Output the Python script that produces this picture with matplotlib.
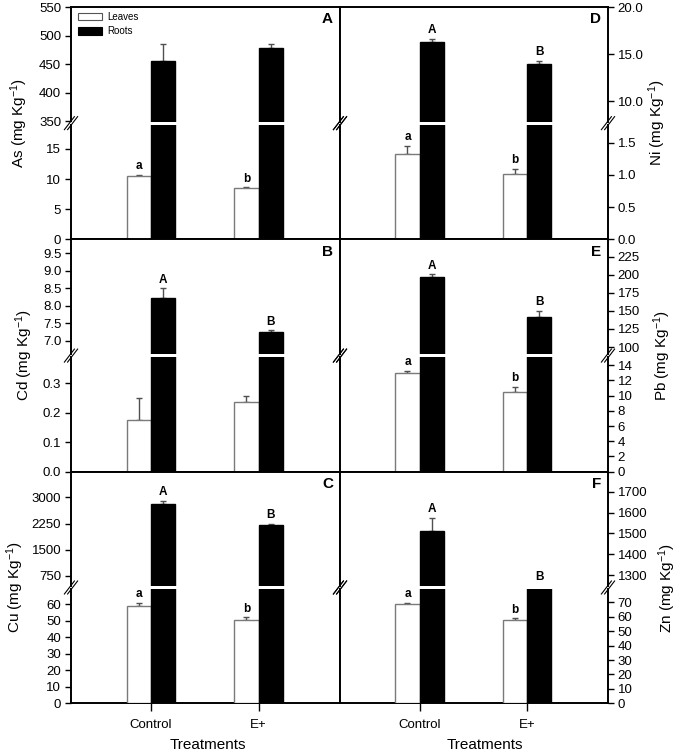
import matplotlib
matplotlib.use('Agg')
import matplotlib.pyplot as plt
from matplotlib.lines import Line2D
from matplotlib.patches import Patch
from matplotlib.ticker import FormatStrFormatter

plt.rcParams['font.family'] = ['Liberation Sans', 'DejaVu Sans']
plt.rcParams['mathtext.fontset'] = 'custom'
plt.rcParams['mathtext.rm'] = 'Liberation Sans'
plt.rcParams['mathtext.it'] = 'Liberation Sans:italic'
plt.rcParams['mathtext.bf'] = 'Liberation Sans:bold'

# ---------------- data ----------------
treatments = ['Control', 'E+']
series_names = ['Leaves', 'Roots']

as_leaves = [10.55, 8.45]
as_leaves_err = [0.15, 0.15]
as_roots = [455, 478]
as_roots_err = [31, 7]

cd_leaves = [0.175, 0.235]
cd_leaves_err = [0.074, 0.022]
cd_roots = [8.21, 7.25]
cd_roots_err = [0.29, 0.05]

cu_leaves = [58.9, 50.4]
cu_leaves_err = [2.0, 1.6]
cu_roots = [2800, 2220]
cu_roots_err = [100, 25]

ni_leaves = [1.32, 1.02]
ni_leaves_err = [0.13, 0.07]
ni_roots = [16.29, 13.96]
ni_roots_err = [0.28, 0.35]

pb_leaves = [12.95, 10.49]
pb_leaves_err = [0.3, 0.65]
pb_roots = [197.3, 142]
pb_roots_err = [3.3, 8]

zn_leaves = [69, 57.7]
zn_leaves_err = [0.8, 1.2]
zn_roots = [1513, 1200]
zn_roots_err = [63, 0]

as_letters = (['a', 'b'], ['', ''])
cd_letters = (['', ''], ['A', 'B'])
cu_letters = (['a', 'b'], ['A', 'B'])
ni_letters = (['a', 'b'], ['A', 'B'])
pb_letters = (['a', 'b'], ['A', 'B'])
zn_letters = (['a', 'b'], ['A', 'B'])

as_ticks = ([350, 400, 450, 500, 550], [0, 5, 10, 15])
cd_ticks = ([7.0, 7.5, 8.0, 8.5, 9.0, 9.5], [0.0, 0.1, 0.2, 0.3])
cu_ticks = ([750, 1500, 2250, 3000], [0, 10, 20, 30, 40, 50, 60])
ni_ticks = ([10.0, 15.0, 20.0], [0.0, 0.5, 1.0, 1.5])
pb_ticks = ([100, 125, 150, 175, 200, 225], [0, 2, 4, 6, 8, 10, 12, 14])
zn_ticks = ([1300, 1400, 1500, 1600, 1700], [0, 10, 20, 30, 40, 50, 60, 70])

# ---------------- layout ----------------
W, H = 680, 752
fig = plt.figure(figsize=(W / 100, H / 100), dpi=100)


def fx(px):
    return px / W


def fy(py):
    return 1 - py / H


cols = [(71, 340), (340, 608)]
rows = [(7, 239.3), (239.5, 471.7), (471.7, 703.3)]
gap = 3.3

panels = [
    dict(r=0, c=0, tag='A', el='As', lv=as_leaves, le=as_leaves_err, rv=as_roots, re=as_roots_err,
         let=as_letters, ticks=as_ticks, uy=(350, 550), ly=(0, 19.0), fmt=('%d', '%d'), lx=19),
    dict(r=1, c=0, tag='B', el='Cd', lv=cd_leaves, le=cd_leaves_err, rv=cd_roots, re=cd_roots_err,
         let=cd_letters, ticks=cd_ticks, uy=(6.63, 9.89), ly=(0, 0.388), fmt=('%.1f', '%.1f'), lx=24),
    dict(r=2, c=0, tag='C', el='Cu', lv=cu_leaves, le=cu_leaves_err, rv=cu_roots, re=cu_roots_err,
         let=cu_letters, ticks=cu_ticks, uy=(467, 3732), ly=(0, 69.1), fmt=('%d', '%d'), lx=15),
    dict(r=0, c=1, tag='D', el='Ni', lv=ni_leaves, le=ni_leaves_err, rv=ni_roots, re=ni_roots_err,
         let=ni_letters, ticks=ni_ticks, uy=(7.83, 20.0), ly=(0, 1.78), fmt=('%.1f', '%.1f'), lx=657),
    dict(r=1, c=1, tag='E', el='Pb', lv=pb_leaves, le=pb_leaves_err, rv=pb_roots, re=pb_roots_err,
         let=pb_letters, ticks=pb_ticks, uy=(90.4, 248.8), ly=(0, 15.05), fmt=('%d', '%d'), lx=662),
    dict(r=2, c=1, tag='F', el='Zn', lv=zn_leaves, le=zn_leaves_err, rv=zn_roots, re=zn_roots_err,
         let=zn_letters, ticks=zn_ticks, uy=(1249, 1796), ly=(0, 79.1), fmt=('%d', '%d'), lx=667),
]

xs = [0, 1]
bw = 0.226
xlim = (-0.742, 1.756)
spine_lw = 1.4
leaf_edge = '#7a7a7a'
err_col = '#505050'
tick_fs = 9.5


def add_break(xpx, ypx):
    for dx in (-1.6, 1.6):
        fig.add_artist(Line2D([fx(xpx + dx - 5), fx(xpx + dx + 5)],
                              [fy(ypx + 6.5), fy(ypx - 6.5)],
                              color='black', lw=0.8, transform=fig.transFigure))


for p in panels:
    x0, x1 = cols[p['c']]
    t, b = rows[p['r']]
    half = (b - t - gap) / 2
    ax_up = fig.add_axes([fx(x0), fy(t + half), fx(x1 - x0), half / H])
    ax_lo = fig.add_axes([fx(x0), fy(b), fx(x1 - x0), half / H])

    for ax, yl in ((ax_up, p['uy']), (ax_lo, p['ly'])):
        xl = [x - bw / 2 for x in xs]
        xr = [x + bw / 2 for x in xs]
        ax.bar(xl, p['lv'], width=bw, color='white', edgecolor=leaf_edge, linewidth=1.0, zorder=3)
        ax.bar(xr, p['rv'], width=bw, color='black', edgecolor='black', linewidth=1.0, zorder=3)
        ax.errorbar(xl, p['lv'], yerr=[[0, 0], p['le']], fmt='none', ecolor=err_col,
                    elinewidth=1.0, capsize=2.5, capthick=1.0, zorder=2)
        ax.errorbar(xr, p['rv'], yerr=[[0, 0], p['re']], fmt='none', ecolor=err_col,
                    elinewidth=1.0, capsize=2.5, capthick=1.0, zorder=2)
        ax.set_xlim(*xlim)
        ax.set_ylim(*yl)
        for s in ax.spines.values():
            s.set_linewidth(spine_lw)

    # ticks
    ax_up.set_yticks(p['ticks'][0])
    ax_lo.set_yticks(p['ticks'][1])
    ax_up.yaxis.set_major_formatter(FormatStrFormatter(p['fmt'][0]))
    ax_lo.yaxis.set_major_formatter(FormatStrFormatter(p['fmt'][1]))
    ax_up.spines['bottom'].set_visible(False)
    ax_lo.spines['top'].set_visible(False)
    ax_up.tick_params(axis='x', bottom=False, labelbottom=False)
    ax_lo.set_xticks(xs)
    ax_lo.tick_params(axis='x', direction='out', length=6, width=1.0)
    if p['r'] == 2:
        ax_lo.set_xticklabels(treatments, fontsize=tick_fs)
        ax_lo.tick_params(axis='x', pad=5)
    else:
        ax_lo.tick_params(axis='x', labelbottom=False)
    for ax in (ax_up, ax_lo):
        ax.tick_params(axis='y', direction='out', length=4, width=1.0, labelsize=tick_fs, pad=3)
        if p['c'] == 1:
            ax.yaxis.tick_right()
            ax.tick_params(axis='y', left=False, right=True)

    # letters
    up_bot = p['uy'][0]
    lo_top = p['ly'][1]
    for vals, errs, labs, off in ((p['lv'], p['le'], p['let'][0], -bw / 2),
                                  (p['rv'], p['re'], p['let'][1], bw / 2)):
        for x, v, e, lab in zip(xs, vals, errs, labs):
            if not lab:
                continue
            top = v + e
            if top >= up_bot:
                target, yy = ax_up, top
            elif top <= lo_top:
                target, yy = ax_lo, top
            else:
                target, yy = ax_up, up_bot
            target.annotate(lab, (x + off, yy), xytext=(0, 2), textcoords='offset points',
                            ha='center', va='bottom', fontsize=8.5, fontweight='bold',
                            annotation_clip=False)

    # panel tag
    fig.text(fx(x1 - 7), fy(t + 12), p['tag'], ha='right', va='center',
             fontsize=11, fontweight='bold')

    # y label
    fig.text(fx(p['lx']), fy((t + b) / 2), p['el'] + ' (mg Kg$^{-1}$)', rotation=90,
             ha='center', va='center', fontsize=11)

    # break marks
    ybr = t + half + gap / 2
    add_break(x0, ybr)
    add_break(x1, ybr)

    if p['tag'] == 'A':
        handles = [Patch(facecolor='white', edgecolor='#555555', linewidth=0.8),
                   Patch(facecolor='black', edgecolor='black', linewidth=0.8)]
        fig.legend(handles, series_names, loc='upper left',
                   bbox_to_anchor=(fx(78), fy(12)), bbox_transform=fig.transFigure,
                   frameon=False, fontsize=7, borderpad=0, handlelength=2.5,
                   handleheight=0.75, handletextpad=0.5, labelspacing=0.45, borderaxespad=0)

# x labels
fig.text(fx(208), fy(745), 'Treatments', ha='center', va='center', fontsize=11)
fig.text(fx(485), fy(745), 'Treatments', ha='center', va='center', fontsize=11)

fig.savefig('out.png', dpi=100)
